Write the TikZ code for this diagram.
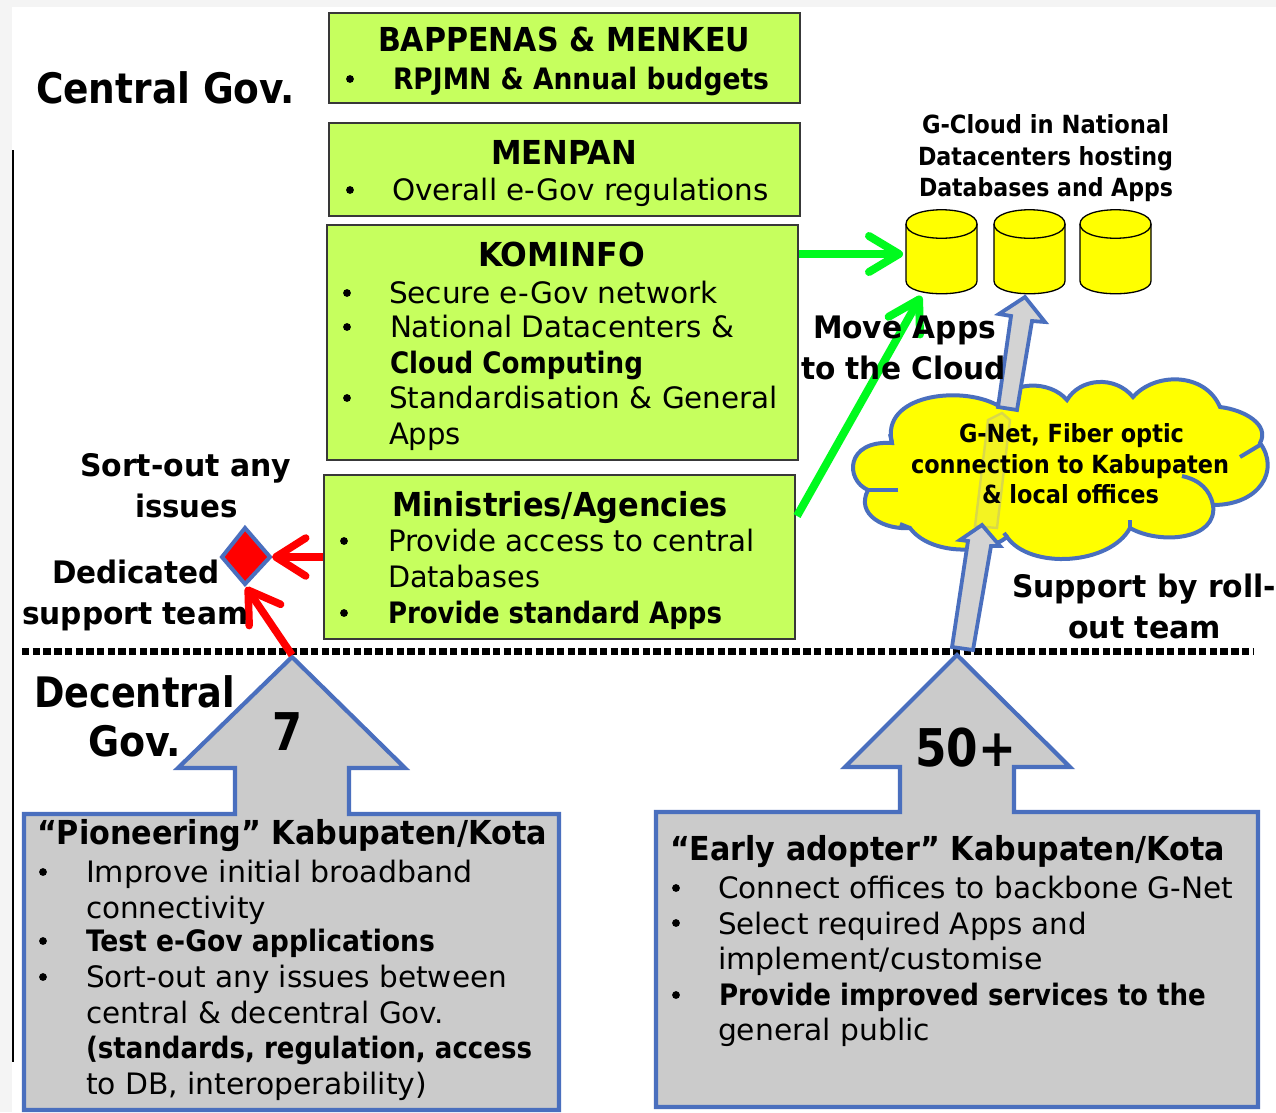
\documentclass[tikz,border=0pt]{standalone}
\usepackage{fontspec}
\usepackage{graphicx}
\setmainfont{DejaVu Sans Condensed}
\usetikzlibrary{arrows.meta}
\definecolor{limeg}{HTML}{C6FF5E}
\definecolor{arrowblue}{HTML}{4A6FBE}
\definecolor{shapegray}{HTML}{CBCBCB}
\definecolor{pagegray}{HTML}{F4F4F4}
\definecolor{arrowgreen}{HTML}{00FA1E}
\definecolor{cloudy}{HTML}{FFFF00}
\definecolor{ghostedge}{HTML}{D9D84A}
\definecolor{ghostfill}{HTML}{F3F322}
\newcounter{tl}
\newcommand\fs[1]{\fontsize{#1}{#1}\selectfont}
% x, baseline y, size, width, text
\newcommand\tr[5]{\stepcounter{tl}\node[txt] (t\arabic{tl}) at (#1,#2) {\resizebox{#4pt}{\height}{\fs{#3}#5}};}
\newcommand\tb[5]{\stepcounter{tl}\node[txt] (t\arabic{tl}) at (#1,#2) {\resizebox{#4pt}{\height}{\fs{#3}\bfseries #5}};}
\newcommand\bu[2]{\fill (#1,#2) circle (3.9);}
\tikzset{
  txt/.style={anchor=base west,inner sep=0pt,outer sep=0pt,black},
  limebox/.style={draw=black!78,fill=limeg,line width=1.8},
  blueshape/.style={draw=arrowblue,fill=shapegray,line width=4.2,line join=miter},
  thinarrow/.style={draw=arrowblue,fill=shapegray!85!white,line width=3.8,line join=miter},
  redarr/.style={draw=red,line width=7.5,-{Straight Barb[length=30,width=38,round]}},
  greenarr/.style={draw=arrowgreen,line width=8,-{Straight Barb[length=30,width=36,round]}},
  cyl/.style={draw=black,fill=cloudy,line width=1.3},
  cloudline/.style={draw=arrowblue,line width=4},
}
\newcommand\cylinder[2]{% left x, right x
  \path[cyl] (#1,224) -- (#1,281) .. controls (#1,298) and (#2,298) .. (#2,281) -- (#2,224)
     .. controls (#2,205) and (#1,205) .. (#1,224) -- cycle;
  \draw[cyl,fill=none] (#1,224) .. controls (#1,243) and (#2,243) .. (#2,224);
}
\begin{document}
\begin{tikzpicture}[x=1pt,y=-1pt]
\useasboundingbox (0,0) rectangle (1276,1112);
\fill[pagegray] (0,0) rectangle (1276,1112);
\fill[white] (12,7) rectangle (1276,1112);
\draw[black,line width=1.8] (13,150) -- (13,1062);

% lime boxes
\node[limebox,minimum width=471,minimum height=90,anchor=north west,inner sep=0] (bappenas) at (328,12) {};
\node[limebox,minimum width=471,minimum height=93,anchor=north west,inner sep=0] (menpan) at (328,122) {};
\node[limebox,minimum width=471,minimum height=235,anchor=north west,inner sep=0] (kominfo) at (326,224) {};
\node[limebox,minimum width=471,minimum height=164,anchor=north west,inner sep=0] (ministries) at (323,474) {};

% dashed divider
\draw[black,line width=7,dash pattern=on 7.4 off 3.3] (22,651) -- (1254,651);

% cylinders
\cylinder{906}{977}
\cylinder{994}{1065}
\cylinder{1080}{1151}
\coordinate (cylA) at (903,254);
\coordinate (cylAs) at (921,296);

% cloud
\path[cloudline,fill=cloudy] (892,443)
  .. controls (880,395) and (960,385) .. (997,405)
  .. controls (1010,380) and (1050,380) .. (1067,400)
  .. controls (1080,378) and (1115,375) .. (1133,397)
  .. controls (1155,372) and (1205,372) .. (1220,407)
  .. controls (1245,410) and (1270,425) .. (1260,443)
  .. controls (1280,470) and (1260,505) .. (1213,505)
  .. controls (1218,540) and (1160,545) .. (1130,528)
  .. controls (1110,565) and (1030,570) .. (1007,537)
  .. controls (985,555) and (930,555) .. (910,528)
  .. controls (885,530) and (855,515) .. (868,490)
  .. controls (845,480) and (845,440) .. (892,443) -- cycle;
\draw[cloudline] (892,443) -- (890,434);
\draw[cloudline] (1240,457) -- (1260,445);
\draw[cloudline] (1182,476) .. controls (1200,480) and (1210,490) .. (1213,505);
\draw[cloudline] (1130,528) -- (1130,520);
\draw[cloudline] (1007,537) -- (1004,533);
\draw[cloudline] (910,528) -- (900,524);
\draw[cloudline] (898,490) -- (868,490);

% upper thin arrow
\path[thinarrow] (1025,297) -- (1045,322) -- (1032,321) -- (1017,410) -- (998,407) -- (1011,316) -- (999,314) -- cycle;
% ghost shaft through the cloud
\path[draw=ghostedge,fill=ghostfill,line width=2.4] (1002,413) -- (1010,420) -- (997,528) -- (975,526) -- (988,420) -- cycle;
% lower thin arrow
\path[thinarrow] (982,525) -- (1000,546) -- (991,546) -- (973,650) -- (952,647) -- (968,541) -- (960,540) -- cycle;

% big block arrows + grey boxes
\path[blueshape] (235,814) -- (235,768) -- (178,768) -- (292,657) -- (405,768) -- (349,768) -- (349,814) -- (559,814) -- (559,1110) -- (24,1110) -- (24,814) -- cycle;
\path[blueshape] (900,812) -- (900,767) -- (845,767) -- (957,655) -- (1070,767) -- (1014,767) -- (1014,812) -- (1258,812) -- (1258,1107) -- (656,1107) -- (656,812) -- cycle;
\coordinate (tipL) at (292,655);

% diamond
\path[draw=arrowblue,fill=red,line width=4] (245,528) -- (270,557) -- (245,584) -- (222,557) -- cycle;
\coordinate (diaE) at (272,557);
\coordinate (diaS) at (246,587);

% connectors
\draw[redarr] (ministries.west |- diaE) -- (diaE);
\draw[redarr] (tipL) -- (diaS);
\draw[greenarr] (kominfo.east |- cylA) -- (cylA);
\coordinate (minE) at (797,516);
\draw[greenarr] (minE) -- (cylAs);

% texts
\tb{36}{103}{42}{259}{Central Gov.}
\tb{378}{51}{33}{372}{BAPPENAS \& MENKEU}
\bu{350}{79}
\tb{393}{89}{29.5}{376}{RPJMN \& Annual budgets}
\tb{491}{164}{33}{146}{MENPAN}
\bu{350}{190}
\tr{392}{200}{29.5}{377}{Overall e-Gov regulations}
\tb{478}{266}{33}{167}{KOMINFO}
\bu{347}{293}
\tr{389}{303}{29.5}{329}{Secure e-Gov network}
\bu{347}{327}
\tr{390}{337}{29.5}{344}{National Datacenters \&}
\tb{390}{373}{29.5}{253}{Cloud Computing}
\bu{347}{398}
\tr{389}{408}{29.5}{389}{Standardisation \& General}
\tr{389}{444}{29.5}{72}{Apps}
\tb{392}{516}{33}{336}{Ministries/Agencies}
\bu{344}{541}
\tr{388}{551}{29.5}{367}{Provide access to central}
\tr{388}{587}{29.5}{152}{Databases}
\bu{344}{613}
\tb{388}{623}{29.5}{334}{Provide standard Apps}
\tb{80}{476}{31}{211}{Sort-out any}
\tb{135}{517}{31}{103}{issues}
\tb{52}{583}{31}{168}{Dedicated}
\tb{22}{624}{31}{226}{support team}
\tb{34}{707}{42}{201}{Decentral}
\tb{88}{756}{42}{93}{Gov.}
\tb{272}{750}{52}{30}{7}
\tb{915}{766}{52}{101}{50+}
\tb{813}{338}{31}{183}{Move Apps}
\tb{801}{379}{31}{205}{to the Cloud}
\tb{1012}{597}{31}{264}{Support by roll-}
\tb{1068}{638}{31}{153}{out team}
\tb{922}{133}{25}{247}{G-Cloud in National}
\tb{918}{165}{25}{255}{Datacenters hosting}
\tb{919}{196}{25}{254}{Databases and Apps}
\tb{959}{442}{25}{225}{G-Net, Fiber optic}
\tb{911}{473}{25}{318}{connection to Kabupaten}
\tb{982}{503}{25}{177}{\& local offices}
% left box
\tb{37}{844}{33}{510}{“Pioneering” Kabupaten/Kota}
\bu{43}{872}
\tr{86}{882}{29.5}{387}{Improve initial broadband}
\tr{86}{918}{29.5}{180}{connectivity}
\bu{43}{941}
\tb{86}{951}{29.5}{349}{Test e-Gov applications}
\bu{43}{977}
\tr{86}{987}{29.5}{421}{Sort-out any issues between}
\tr{86}{1023}{29.5}{358}{central \& decentral Gov.}
\tb{86}{1058}{29.5}{446}{(standards, regulation, access}
\tr{86}{1094}{29.5}{341}{to DB, interoperability)}
% right box
\tb{670}{860}{33}{555}{“Early adopter” Kabupaten/Kota}
\bu{676}{888}
\tr{718}{898}{29.5}{515}{Connect offices to backbone G-Net}
\bu{676}{923}
\tr{718}{934}{29.5}{369}{Select required Apps and}
\tr{718}{969}{29.5}{325}{implement/customise}
\bu{676}{995}
\tb{719}{1005}{29.5}{487}{Provide improved services to the}
\tr{718}{1040}{29.5}{212}{general public}
\end{tikzpicture}
\end{document}
